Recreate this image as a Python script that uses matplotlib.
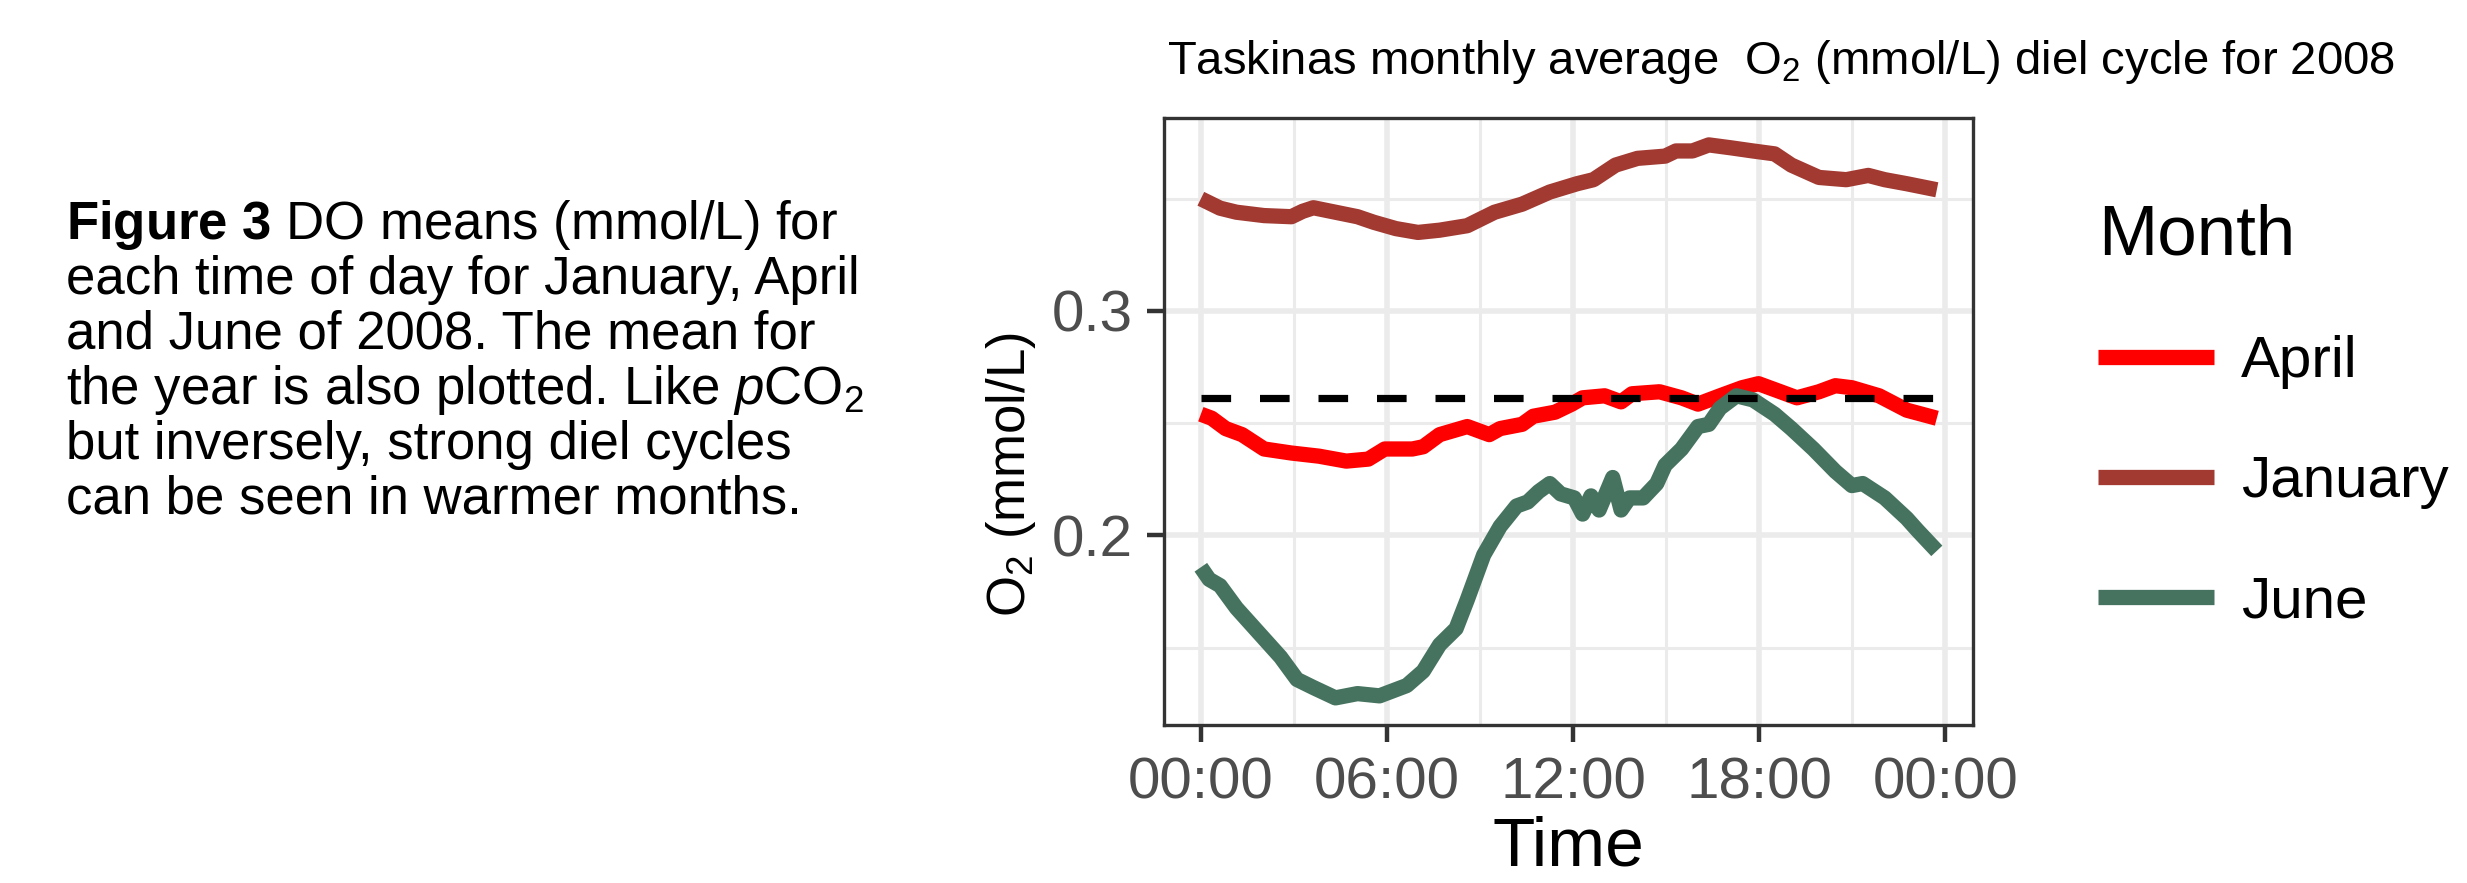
import numpy as np
import matplotlib.pyplot as plt
from matplotlib.ticker import FixedLocator

plt.rcParams['font.family'] = ['Liberation Sans', 'DejaVu Sans']
plt.rcParams['mathtext.fontset'] = 'custom'
plt.rcParams['mathtext.rm'] = 'Liberation Sans'
plt.rcParams['mathtext.it'] = 'Liberation Sans:italic'
plt.rcParams['mathtext.bf'] = 'Liberation Sans:bold'

# hour of day vs mean O2 (mmol/L)
jan_hour = [0, 0.62, 1.15, 2.04, 2.92, 3.28, 3.63, 4.34, 5.05, 5.58, 6.29, 7.0, 7.7,
            8.59, 9.47, 10.36, 11.25, 12.13, 12.66, 13.37, 14.08, 14.97, 15.32, 15.85,
            16.38, 17.09, 17.8, 18.5, 19.04, 19.93, 20.81, 21.52, 22.05, 22.76, 23.73]
jan_o2 = [0.350, 0.3458, 0.344, 0.3425, 0.342, 0.3444, 0.346, 0.344, 0.342, 0.3395,
          0.3367, 0.335, 0.336, 0.338, 0.344, 0.3476, 0.353, 0.3567, 0.3585, 0.365,
          0.368, 0.369, 0.3713, 0.3713, 0.374, 0.3727, 0.3713, 0.370, 0.365, 0.3595,
          0.3585, 0.3604, 0.3585, 0.3567, 0.354]

apr_hour = [0, 0.35, 0.8, 1.33, 2.04, 2.92, 3.81, 4.69, 5.4, 5.93, 6.82, 7.17, 7.7,
            8.59, 9.3, 9.65, 10.36, 10.72, 11.42, 11.96, 12.31, 13.02, 13.55, 13.9,
            14.79, 15.5, 16.03, 16.74, 17.45, 17.98, 18.69, 19.22, 19.93, 20.46, 20.99,
            21.87, 22.76, 23.73]
apr_o2 = [0.254, 0.2522, 0.2476, 0.2449, 0.2385, 0.2367, 0.2353, 0.2331, 0.234, 0.2385,
          0.2385, 0.2395, 0.2449, 0.2485, 0.2449, 0.2476, 0.2495, 0.2531, 0.2549, 0.2585,
          0.2613, 0.2622, 0.2595, 0.2631, 0.264, 0.2613, 0.2585, 0.2622, 0.2658, 0.2676,
          0.264, 0.2613, 0.264, 0.2667, 0.2658, 0.2622, 0.2558, 0.2522]

jun_hour = [0, 0.27, 0.62, 1.15, 1.86, 2.57, 3.1, 3.63, 4.34, 5.05, 5.76, 6.64, 7.17,
            7.7, 8.23, 8.59, 9.12, 9.65, 10.18, 10.54, 10.89, 11.25, 11.6, 12.04, 12.31,
            12.58, 12.84, 13.28, 13.55, 13.82, 14.26, 14.7, 14.97, 15.5, 16.03, 16.38,
            16.74, 17.27, 17.8, 18.5, 19.04, 19.75, 20.46, 20.99, 21.34, 22.05, 22.76,
            23.11, 23.73]
jun_o2 = [0.1858, 0.1804, 0.1776, 0.1676, 0.1567, 0.1458, 0.1358, 0.1322, 0.1276, 0.1295,
          0.1285, 0.1331, 0.1395, 0.1513, 0.1585, 0.1713, 0.1913, 0.204, 0.2131, 0.2149,
          0.2195, 0.2231, 0.2185, 0.2167, 0.2095, 0.2176, 0.2113, 0.2258, 0.2113, 0.2167,
          0.2167, 0.2231, 0.2313, 0.2385, 0.2485, 0.2495, 0.2567, 0.2622, 0.2604, 0.254,
          0.2476, 0.2385, 0.2285, 0.2222, 0.2231, 0.2167, 0.2076, 0.2022, 0.1931]

year_mean = 0.261
mean_span = [0, 23.75]

x_ticks = [0, 6, 12, 18, 24]
x_labels = ['00:00', '06:00', '12:00', '18:00', '00:00']
y_ticks = [0.2, 0.3]

fig = plt.figure(figsize=(24.67, 8.83), dpi=100)
ax = fig.add_axes([0.4718, 0.1789, 0.328, 0.6875])

lw = 11
ax.plot(apr_hour, apr_o2, color='#FF0000', lw=lw, label='April', solid_capstyle='butt')
ax.plot(jan_hour, jan_o2, color='#A23A32', lw=lw, label='January', solid_capstyle='butt')
ax.plot(jun_hour, jun_o2, color='#46735F', lw=lw, label='June', solid_capstyle='butt')
ax.plot(mean_span, [year_mean, year_mean], color='black', lw=5.2, dashes=(4.1, 4.0))

ax.set_xlim(-1.19, 24.9)
ax.set_ylim(0.1155, 0.386)
ax.set_xticks(x_ticks)
ax.set_xticklabels(x_labels)
ax.set_yticks(y_ticks)
ax.set_yticklabels(['0.2', '0.3'])
ax.xaxis.set_minor_locator(FixedLocator([3, 9, 15, 21]))
ax.yaxis.set_minor_locator(FixedLocator([0.15, 0.25, 0.35]))
ax.grid(True, which='major', color='#EBEBEB', lw=4.0)
ax.grid(True, which='minor', color='#EBEBEB', lw=2.2)
ax.set_axisbelow(True)
ax.tick_params(which='major', length=12.5, width=3.2, color='#333333',
               labelsize=42, labelcolor='#4D4D4D')
ax.tick_params(axis='y', pad=10)
ax.tick_params(axis='x', pad=10)
ax.tick_params(which='minor', length=0)
for s in ax.spines.values():
    s.set_color('#333333')
    s.set_linewidth(2.4)

ax.set_xlabel('Time', fontsize=50, labelpad=4)
fig.text(0.410, 0.462, 'O$_2$ (mmol/L)', fontsize=38, rotation=90,
         ha='center', va='center')

leg = ax.legend(loc='upper left', bbox_to_anchor=(0.829, 0.829), bbox_transform=fig.transFigure,
                frameon=False, fontsize=42, title='Month', title_fontsize=51,
                handlelength=2.0, handletextpad=0.45, labelspacing=1.13)
leg._legend_box.align = 'left'

fig.text(0.473, 0.916, 'Taskinas monthly average  O$_2$ (mmol/L) diel cycle for 2008',
         fontsize=34, ha='left', va='baseline')

caption = [r'$\bf{Figure\ 3}$ DO means (mmol/L) for',
           'each time of day for January, April',
           'and June of 2008. The mean for',
           r'the year is also plotted. Like $\it{p}$CO$_2$',
           'but inversely, strong diel cycles',
           'can be seen in warmer months.']
cap_y = [0.7293, 0.667, 0.6048, 0.5425, 0.4802, 0.4179]
for line, yy in zip(caption, cap_y):
    fig.text(0.0268, yy, line, fontsize=38, ha='left', va='baseline')

fig.savefig('out.png', dpi=100)
